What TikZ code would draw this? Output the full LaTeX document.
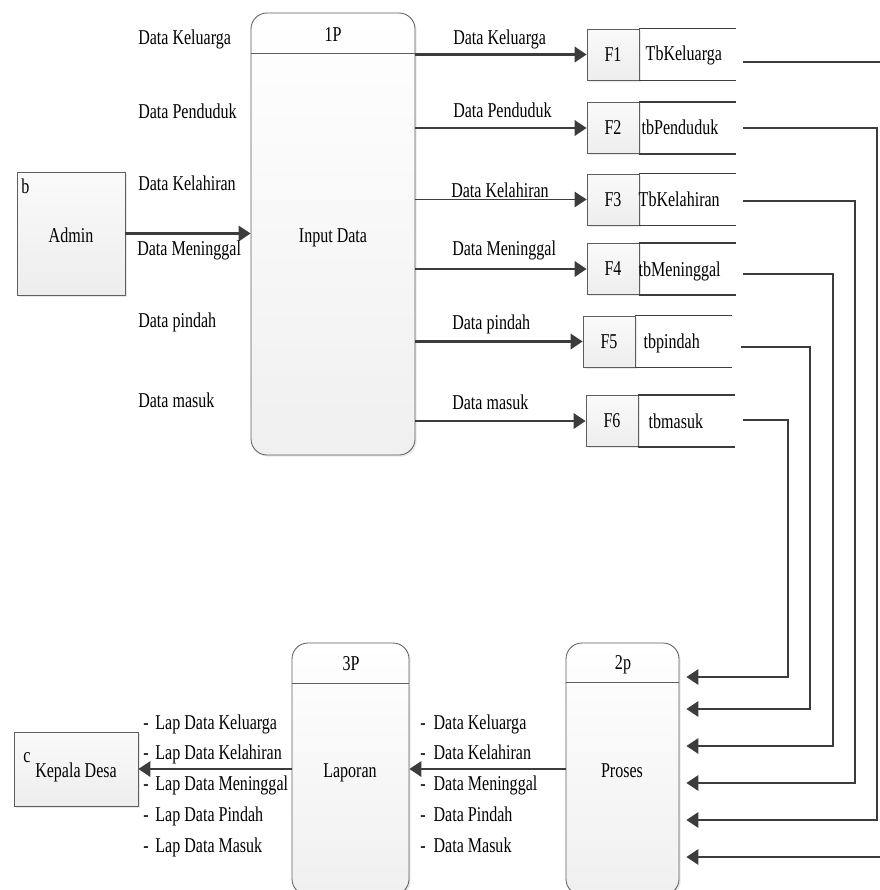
\documentclass[tikz,border=0pt]{standalone}
\usepackage{fontspec}
\setmainfont{Liberation Serif}[FakeStretch=0.76]
\usepackage{tikz}
\usetikzlibrary{arrows.meta,calc,shadows}
\definecolor{linegray}{HTML}{3C3C3C}
\definecolor{edgegray}{HTML}{5E5E5E}
\newcommand{\unitpx}{0.025cm}

\begin{document}
\begin{tikzpicture}[x=\unitpx,y=-\unitpx,
    every node/.style={font=\fontsize{15}{18}\selectfont, inner sep=0pt},
    softshadow/.style={drop shadow={shadow xshift=1.2pt, shadow yshift=-1.2pt, opacity=0.18, fill=gray}},
    proc/.style={draw=edgegray, line width=0.6pt, rounded corners=16*\unitpx, top color=white, bottom color=gray!12, softshadow},
    ext/.style={draw=edgegray, line width=0.6pt, top color=gray!4, bottom color=gray!14, softshadow},
    fbox/.style={draw=edgegray, line width=0.6pt, top color=gray!4, bottom color=gray!14, minimum width=52*\unitpx, minimum height=51*\unitpx, softshadow},
    storeline/.style={draw=linegray, line width=1.2pt},
    flow/.style={draw=linegray, line width=1.5pt, -{Triangle[length=8.5pt,width=11pt]}},
    link/.style={draw=linegray, line width=1.2pt, -{Triangle[length=8.5pt,width=11pt]}}]
    \useasboundingbox (0,0) rectangle (880,890);

    % entitas luar
    \node[ext, minimum width=108*\unitpx, minimum height=123*\unitpx] (admin) at (71,233.5) {};
    \node[anchor=base west] (admintag) at (21,193) {b};
    \node[anchor=base] (adminname) at (71,242) {Admin};
    \node[ext, minimum width=124*\unitpx, minimum height=74*\unitpx] (kades) at (76,769) {};
    \node[anchor=base west] (kadestag) at (23,762) {c};
    \node[anchor=base] (kadesname) at (76,777) {Kepala Desa};

    % proses
    \node[proc, minimum width=164*\unitpx, minimum height=442*\unitpx] (p1) at (333,234) {};
    \draw[edgegray, line width=0.6pt] ($(p1.north west)+(0,41)$) -- ($(p1.north east)+(0,41)$);
    \node[anchor=base] (p1num) at (333,41) {1P};
    \node[anchor=base] (p1name) at (333,242) {Input Data};

    \node[proc, minimum width=113*\unitpx, minimum height=252*\unitpx] (p2) at (622.5,769) {};
    \draw[edgegray, line width=0.6pt] ($(p2.north west)+(0,40)$) -- ($(p2.north east)+(0,40)$);
    \node[anchor=base] (p2num) at (623,669) {2p};
    \node[anchor=base] (p2name) at (622,777) {Proses};

    \node[proc, minimum width=117*\unitpx, minimum height=252*\unitpx] (p3) at (350.5,769) {};
    \draw[edgegray, line width=0.6pt] ($(p3.north west)+(0,41)$) -- ($(p3.north east)+(0,41)$);
    \node[anchor=base] (p3num) at (351,670) {3P};
    \node[anchor=base] (p3name) at (350,777) {Laporan};

    % data store
    \node[fbox] (f1) at (613,54.5) {F1};
    \node[fbox] (f2) at (613,128) {F2};
    \node[fbox] (f3) at (613,199.5) {F3};
    \node[fbox] (f4) at (613,269) {F4};
    \node[fbox] (f5) at (609,341.5) {F5};
    \node[fbox] (f6) at (612,421) {F6};
    \foreach \f in {f1,f2,f3,f4,f5,f6} {
      \draw[storeline] (\f.north east) -- ++(97,0);
      \draw[storeline] (\f.south east) -- ++(97,0);
    }
    \node[anchor=base west] (t1) at ($(f1.east)+(6,5.5)$) {TbKeluarga};
    \node[anchor=base west] (t2) at ($(f2.east)+(2,6.5)$) {tbPenduduk};
    \node[anchor=base west] (t3) at ($(f3.east)+(-1,6.5)$) {TbKelahiran};
    \node[anchor=base west] (t4) at ($(f4.east)+(-1,7)$) {tbMeninggal};
    \node[anchor=base west] (t5) at ($(f5.east)+(8,6.5)$) {tbpindah};
    \node[anchor=base west] (t6) at ($(f6.east)+(10,7)$) {tbmasuk};

    % admin ke input data
    \draw[flow] (admin.east) -- (p1.west |- admin);
    \node[anchor=base west] (in1) at (138,44) {Data Keluarga};
    \node[anchor=base west] (in2) at (138,118) {Data Penduduk};
    \node[anchor=base west] (in3) at (138,190) {Data Kelahiran};
    \node[anchor=base west] (in4) at (137,255) {Data Meninggal};
    \node[anchor=base west] (in5) at (138,327) {Data pindah};
    \node[anchor=base west] (in6) at (138,407) {Data masuk};

    % input data ke data store
    \draw[flow] (p1.east |- f1) -- (f1.west);
    \draw[flow] (p1.east |- f2) -- (f2.west);
    \draw[flow, line width=0.7pt] (p1.east |- f3) -- (f3.west);
    \draw[flow] (p1.east |- f4) -- (f4.west);
    \draw[flow] (p1.east |- f5) -- (f5.west);
    \draw[flow] (p1.east |- f6) -- (f6.west);
    \node[anchor=base west] (s1) at (453,44) {Data Keluarga};
    \node[anchor=base west] (s2) at (453,117) {Data Penduduk};
    \node[anchor=base west] (s3) at (451,197) {Data Kelahiran};
    \node[anchor=base west] (s4) at (452,255) {Data Meninggal};
    \node[anchor=base west] (s5) at (452,329) {Data pindah};
    \node[anchor=base west] (s6) at (452,409) {Data masuk};

    % data store ke proses
    \coordinate (o1) at (743,62);
    \coordinate (o2) at (743,128);
    \coordinate (o3) at (743,201);
    \coordinate (o4) at (743,274);
    \coordinate (o5) at (741,347);
    \coordinate (o6) at (743,420);
    \coordinate (i1) at ($(p2.east |- 0,857)+(7,0)$);
    \coordinate (i2) at ($(p2.east |- 0,820)+(7,0)$);
    \coordinate (i3) at ($(p2.east |- 0,783)+(7,0)$);
    \coordinate (i4) at ($(p2.east |- 0,746)+(7,0)$);
    \coordinate (i5) at ($(p2.east |- 0,709)+(7,0)$);
    \coordinate (i6) at ($(p2.east |- 0,677)+(7,0)$);
    \draw[link] (o1) -| (884,857) -- (i1);
    \draw[link] (o2) -| (877,820) -- (i2);
    \draw[link] (o3) -| (855,783) -- (i3);
    \draw[link] (o4) -| (833,746) -- (i4);
    \draw[link] (o5) -| (810,709) -- (i5);
    \draw[link] (o6) -| (788,677) -- (i6);

    % proses ke laporan ke kepala desa
    \draw[flow] (p2.west) -- (p3.east);
    \draw[flow] (p3.west) -- (kades.east);
    \foreach \txt [count=\i] in {Keluarga,Kelahiran,Meninggal,Pindah,Masuk} {
      \node[anchor=base west] (lap\i) at (143,698.25+30.75*\i) {-\hspace{0.17cm}Lap Data \txt};
      \node[anchor=base west] (dat\i) at (420,698.25+30.75*\i) {-\hspace{0.2cm}Data \txt};
    }
  \end{tikzpicture}
\end{document}
